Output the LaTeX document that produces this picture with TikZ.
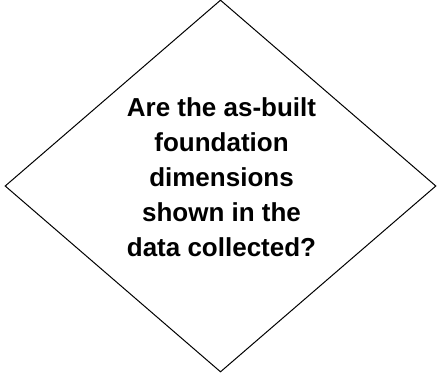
\documentclass[tikz,border=0pt]{standalone}
\usepackage{fontspec}
\setmainfont{Liberation Sans}
\usepackage{tikz}
\usetikzlibrary{shapes.geometric,positioning}

\begin{document}
\begin{tikzpicture}[
      x=1pt, y=1pt,
      decision/.style={diamond, draw=black, line width=1pt, inner sep=0pt,
                       minimum width=431pt, minimum height=372pt},
      question/.style={align=center, inner sep=0pt,
                       font=\fontsize{26}{35}\selectfont\bfseries}
    ]
      \useasboundingbox (0,0) rectangle (438,-373);
      %% Decision diamond
      \node[decision] (check) at (220.5,-186) {};
      %% Question text
      \node[question] (checktext) at (221.5,-177.4)
            {Are the as-built\\foundation\\dimensions\\shown in the\\data collected?};
    \end{tikzpicture}
\end{document}
